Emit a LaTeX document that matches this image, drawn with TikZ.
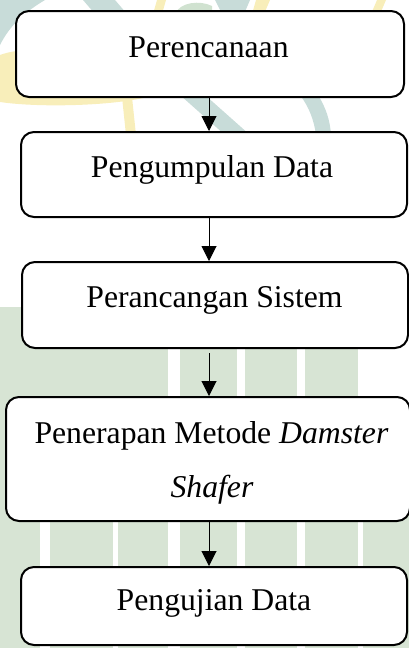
\documentclass[tikz,border=0pt]{standalone}
\usepackage{fontspec}
\setmainfont{Liberation Serif}
\usetikzlibrary{arrows.meta}
\definecolor{wmgreen}{RGB}{215,228,212}
\definecolor{wmteal}{RGB}{200,220,217}
\definecolor{wmyellow}{RGB}{248,238,186}
\definecolor{wmglobe}{RGB}{208,226,208}
\begin{document}
\begin{tikzpicture}[x=1pt,y=-1pt,
  box/.style={draw=black,line width=2pt,rounded corners=13pt,fill=white,inner sep=0pt},
  lbl/.style={font=\fontsize{31.7}{38}\selectfont,anchor=base,inner sep=0pt},
  arr/.style={-{Triangle[width=15pt,length=15pt]},line width=1pt}]
\useasboundingbox (0,0) rectangle (409,648);
% ---- watermark (background) ----
\fill[wmgreen] (0,307) rectangle (168,648);
\fill[wmgreen] (180,307) rectangle (237,648);
\fill[wmgreen] (245,307) rectangle (297,648);
\fill[wmgreen] (305,307) rectangle (358,648);
\fill[wmgreen] (363,460) rectangle (409,648);
\fill[white] (40,460) rectangle (50,648);
\fill[white] (113,460) rectangle (118,648);
% logo fragments
\fill[wmteal] (0,0) -- (45,0) .. controls (25,12) and (10,25) .. (0,45) -- cycle;
\fill[wmyellow] (0,55) .. controls (40,40) and (120,60) .. (155,95) .. controls (120,106) and (40,108) .. (0,102) -- cycle;
\fill[wmyellow] (122,97) -- (132,97) -- (136,135) -- (126,135) -- cycle;
\fill[wmteal] (180,95) -- (205,95) -- (250,135) -- (225,135) -- cycle;
\fill[wmteal] (300,95) -- (318,95) .. controls (326,108) and (330,120) .. (331,135) -- (316,135) .. controls (314,120) and (309,107) .. (300,95) -- cycle;
\fill[wmteal] (83,0) -- (115,0) -- (127,14) -- (95,14) -- cycle;
\fill[wmyellow] (157,0) -- (166,0) -- (162,14) -- (153,14) -- cycle;
\fill[wmglobe] (175,14) .. controls (180,2) and (200,0) .. (212,6) -- (212,14) -- cycle;
\fill[wmteal] (215,0) -- (250,0) -- (244,14) -- (222,14) -- cycle;
\fill[wmyellow] (256,0) -- (270,0) -- (264,14) -- (252,14) -- cycle;
\fill[wmyellow] (377,0) -- (386,0) -- (380,14) -- (371,14) -- cycle;
% ---- boxes ----
\node[box,minimum width=388pt,minimum height=86pt] (b1) at (210,54) {};
\node[box,minimum width=386pt,minimum height=85pt] (b2) at (214,174.5) {};
\node[box,minimum width=386pt,minimum height=86pt] (b3) at (215,305) {};
\node[box,minimum width=404pt,minimum height=124pt] (b4) at (208,459) {};
\node[box,minimum width=386pt,minimum height=78pt] (b5) at (214,606) {};
% ---- labels ----
\node[lbl] (t1) at (208.5,57) {Perencanaan};
\node[lbl] (t2) at (212,177) {Pengumpulan Data};
\node[lbl] (t3) at (214.5,307) {Perancangan Sistem};
\node[lbl] (t4a) at (211.5,443) {Penerapan Metode \textit{Damster}};
\node[lbl] (t4b) at (212,497) {\textit{Shafer}};
\node[lbl] (t5) at (214,610) {Pengujian Data};
% ---- arrows ----
\coordinate (ax) at (209,0);
\draw[arr] (b1.south -| ax) -- (b2.north -| ax);
\draw[arr] (b2.south -| ax) -- (b3.north -| ax);
\draw[arr,shorten <=4pt] (b3.south -| ax) -- (b4.north -| ax);
\draw[arr] (b4.south -| ax) -- (b5.north -| ax);
\end{tikzpicture}
\end{document}
